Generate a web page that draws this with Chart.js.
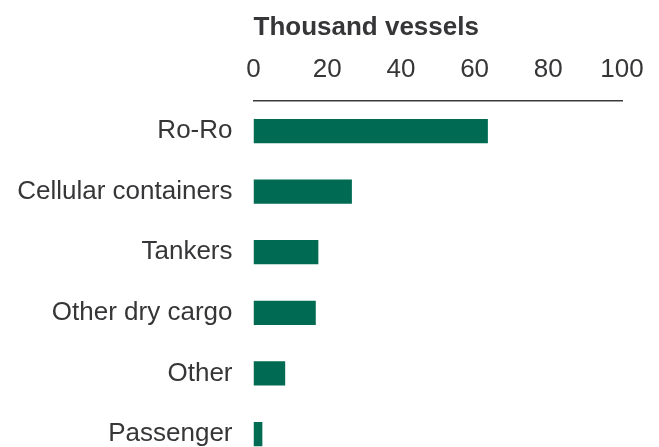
<!DOCTYPE html>
<html lang="en">
<head>
  <meta charset="UTF-8">
  <title>Thousand vessels</title>
  <script src="https://cdn.jsdelivr.net/npm/chart.js"></script>
  <style>
    html, body { margin: 0; padding: 0; background: #fff; overflow: hidden; }
    canvas { display: block; }
  </style>
</head>
<body>
  <canvas id="chartVessels" width="659" height="501"></canvas>

  <script>
    const categories = ['Ro-Ro', 'Cellular containers', 'Tankers', 'Other dry cargo', 'Other', 'Passenger'];
    const vessels = [63.6, 26.7, 17.6, 16.9, 8.6, 2.4];
    const xTicks = [0, 20, 40, 60, 80, 100];

    const textColor = '#363638';
    const fontFamily = '"Liberation Sans", Arial, sans-serif';

    const ctx = document.getElementById('chartVessels').getContext('2d');
    new Chart(ctx, {
      type: 'bar',
      data: {
        labels: categories,
        datasets: [{
          label: 'Thousand vessels',
          data: vessels,
          backgroundColor: '#006a52',
          barPercentage: 0.4,
          categoryPercentage: 1.0
        }]
      },
      options: {
        indexAxis: 'y',
        responsive: false,
        animation: false,
        layout: { padding: { top: 15, right: 37, bottom: 0, left: 0 } },
        plugins: {
          legend: { display: false },
          tooltip: { enabled: false }
        },
        scales: {
          x: {
            position: 'top',
            min: 0,
            max: 100,
            afterBuildTicks: scale => { scale.ticks = xTicks.map(v => ({ value: v })); },
            grid: { display: false, drawTicks: false },
            border: { display: true, color: '#3a3a3c', width: 1.5 },
            ticks: { color: textColor, font: { family: fontFamily, size: 26 }, padding: 15, maxRotation: 0 },
            title: {
              display: true,
              text: 'Thousand vessels',
              align: 'start',
              color: textColor,
              font: { family: fontFamily, size: 26, weight: 'bold', lineHeight: 1.0 },
              padding: { top: 0, bottom: -1.5 }
            }
          },
          y: {
            afterFit: scale => { scale.width = 253.5; },
            grid: { display: false, drawTicks: false },
            border: { display: false },
            ticks: { color: textColor, font: { family: fontFamily, size: 26 }, padding: 21 }
          }
        }
      }
    });
  </script>
</body>
</html>
